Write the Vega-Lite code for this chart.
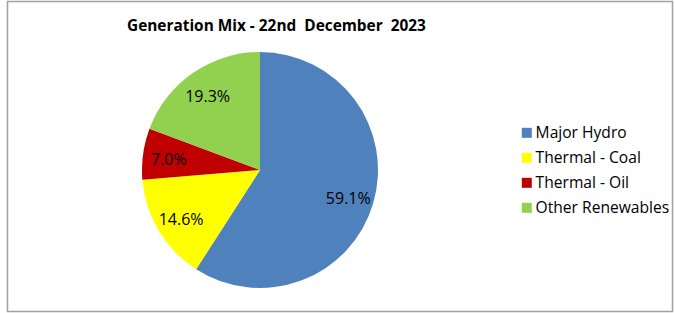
{
  "$schema": "https://vega.github.io/schema/vega-lite/v6.json",
  "width": 665,
  "height": 310,
  "autosize": {"type": "none"},
  "padding": {"left": 7.5, "top": 1.5, "right": 2, "bottom": 1},
  "background": "white",
  "view": {"stroke": "#a0a0a0", "strokeWidth": 1.5, "fill": "white"},
  "config": {"font": "Open Sans"},
  "title": {
    "text": "Generation Mix - 22nd\u00a0 December\u00a0 2023",
    "anchor": "start",
    "dx": 119.5,
    "offset": -33,
    "fontSize": 15.4,
    "fontWeight": "bold",
    "font": "Open Sans",
    "color": "black"
  },
  "data": {
    "values": [
      {"source": "Major Hydro", "share": 0.591, "k": 1},
      {"source": "Thermal - Coal", "share": 0.146, "k": 2},
      {"source": "Thermal - Oil", "share": 0.070, "k": 3},
      {"source": "Other Renewables", "share": 0.193, "k": 4}
    ]
  },
  "encoding": {
    "theta": {"field": "share", "type": "quantitative", "stack": true},
    "order": {"field": "k", "type": "quantitative"},
    "color": {
      "field": "source",
      "type": "nominal",
      "sort": null,
      "scale": {
        "domain": ["Major Hydro", "Thermal - Coal", "Thermal - Oil", "Other Renewables"],
        "range": ["#4F81BD", "#FFFF00", "#C00000", "#92D050"]
      },
      "legend": {
        "orient": "none",
        "legendX": 511.5,
        "legendY": 123.5,
        "title": null,
        "padding": 0,
        "symbolType": "square",
        "symbolSize": 100,
        "symbolStrokeWidth": 0,
        "labelFontSize": 15.6,
        "labelFont": "Open Sans",
        "labelColor": "black",
        "labelOffset": 1,
        "rowPadding": 8
      }
    }
  },
  "layer": [
    {
      "mark": {"type": "arc", "x": 252.5, "y": 168.5, "outerRadius": 118, "stroke": null}
    },
    {
      "mark": {"type": "text", "x": 252.5, "y": 168.5, "radius": 92, "dy": 3, "fontSize": 16, "font": "Open Sans", "color": "black"},
      "encoding": {
        "text": {"field": "share", "type": "quantitative", "format": ".1%"},
        "color": {"value": "black"}
      }
    }
  ]
}
